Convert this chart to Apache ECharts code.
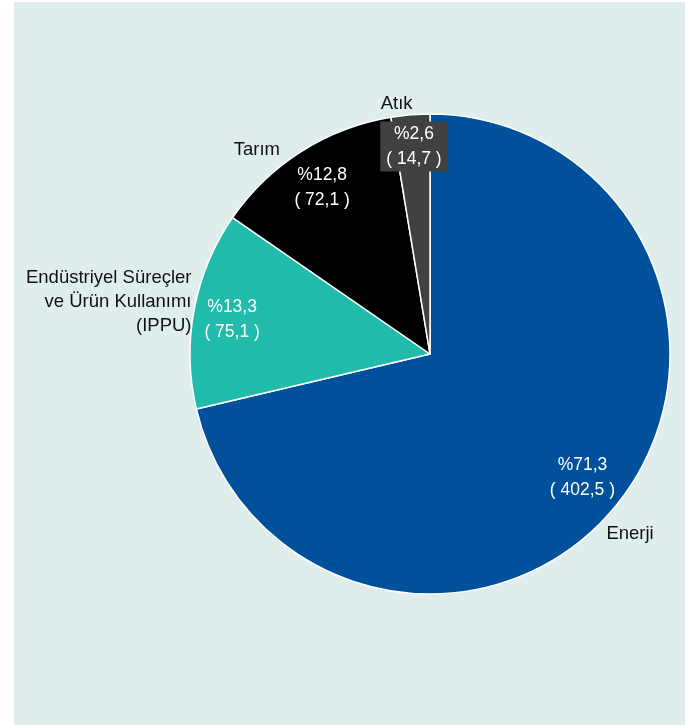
<!DOCTYPE html>
<html>
<head>
<meta charset="utf-8">
<script src="https://cdn.jsdelivr.net/npm/echarts@6/dist/echarts.min.js"></script>
<style>
html,body{margin:0;padding:0;background:#ffffff;}
#main{position:absolute;left:14px;top:2px;width:671px;height:723px;}
</style>
</head>
<body>
<div id="main"></div>
<script>
// ---- data ----
const categories = ['Enerji', 'Endüstriyel Süreçler\nve Ürün Kullanımı\n(IPPU)', 'Tarım', 'Atık'];
const shares = [71.3, 13.3, 12.8, 2.6];
const values = [402.5, 75.1, 72.1, 14.7];

// ---- styles ----
const colors = ['#00509b', '#21bbab', '#000000', '#414141'];
const innerShift = [[56, 47], [-77, -12], [-42, -62], [-6, -85]];
const outerShift = [[-14, 10], [-53, -1], [-27, 26], [-11, 22]];
const fmt = v => v.toFixed(1).replace('.', ',');

const chart = echarts.init(document.getElementById('main'));
const center = [416, 352];
const R = 240;

const innerData = categories.map((c, i) => {
  const item = { name: c, value: values[i], itemStyle: { color: colors[i] } };
  if (i === 3) {
    item.label = { backgroundColor: '#414141', padding: [0, 6, 0, 6] };
  }
  return item;
});
const outerData = categories.map((c, i) => ({ name: c, value: values[i] }));

chart.setOption({
  backgroundColor: '#e0eded',
  animation: false,
  series: [
    {
      type: 'pie',
      center: center,
      radius: [0, R],
      startAngle: 90,
      clockwise: true,
      avoidLabelOverlap: false,
      silent: true,
      itemStyle: { borderColor: '#ffffff', borderWidth: 1.5 },
      labelLine: { show: false },
      label: {
        position: 'inside',
        color: '#ffffff',
        fontFamily: 'Liberation Sans, Arial, sans-serif',
        fontSize: 17.5,
        lineHeight: 25,
        align: 'center',
        formatter: p => '%' + fmt(shares[p.dataIndex]) + '\n( ' + fmt(values[p.dataIndex]) + ' )'
      },
      labelLayout: p => ({ dx: innerShift[p.dataIndex][0], dy: innerShift[p.dataIndex][1] }),
      data: innerData
    },
    {
      type: 'pie',
      center: center,
      radius: [R, R + 60],
      startAngle: 90,
      clockwise: true,
      avoidLabelOverlap: false,
      silent: true,
      itemStyle: { color: 'rgba(0,0,0,0)', borderWidth: 0 },
      labelLine: { show: false },
      label: {
        position: 'inside',
        color: '#111111',
        fontFamily: 'Liberation Sans, Arial, sans-serif',
        fontSize: 18.5,
        lineHeight: 24,
        formatter: p => p.name.split('\n').map(s => '{r|' + s + '}').join('\n'),
        rich: { r: { align: 'right', color: '#111111', fontSize: 18.5, lineHeight: 24, fontFamily: 'Liberation Sans, Arial, sans-serif' } }
      },
      labelLayout: p => ({ dx: outerShift[p.dataIndex][0], dy: outerShift[p.dataIndex][1] }),
      data: outerData
    }
  ]
});
</script>
</body>
</html>
